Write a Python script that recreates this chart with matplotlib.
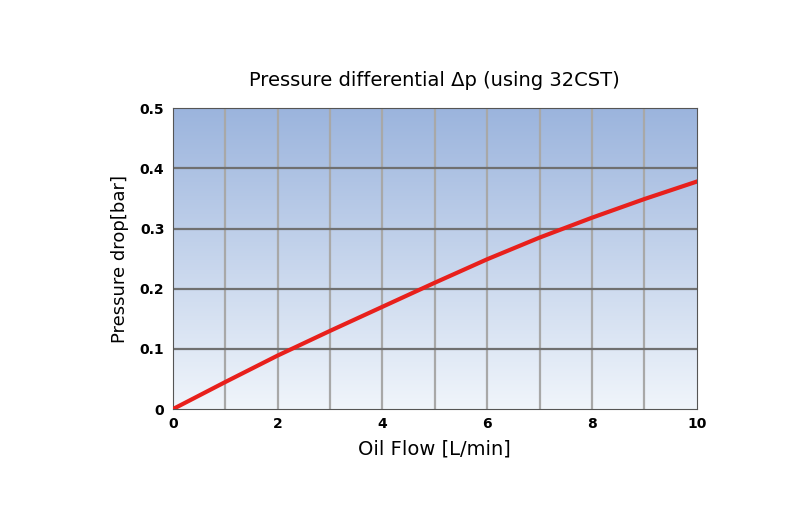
import numpy as np
import matplotlib.pyplot as plt
from matplotlib.colors import LinearSegmentedColormap

flow = [0, 1, 2, 3, 4, 5, 6, 7, 8, 9, 10]
pressure = [0, 0.045, 0.089, 0.130, 0.170, 0.210, 0.249, 0.285, 0.318, 0.349, 0.378]
x_ticks = [0, 2, 4, 6, 8, 10]
y_ticks = [0, 0.1, 0.2, 0.3, 0.4, 0.5]
y_labels = ["0", "0.1", "0.2", "0.3", "0.4", "0.5"]

fig = plt.figure(figsize=(8, 5.3), dpi=100)
ax = fig.add_axes([0.216, 0.228, 0.655, 0.568])

cmap = LinearSegmentedColormap.from_list("bg", ["#f0f5fb", "#9bb4dd"])
grad = np.linspace(0, 1, 256).reshape(-1, 1)
ax.imshow(grad, cmap=cmap, origin="lower", aspect="auto",
          extent=[0, 10, 0, 0.5], zorder=0)

for x in range(1, 10):
    ax.axvline(x, color="#a8a8a8", lw=1.6, zorder=1)
for y in y_ticks[1:-1]:
    ax.axhline(y, color="#707070", lw=1.6, zorder=1)

ax.plot(flow, pressure, color="#e8201c", lw=3, zorder=3)

ax.set_xlim(0, 10)
ax.set_ylim(0, 0.5)
ax.set_xticks(x_ticks)
ax.set_yticks(y_ticks)
ax.set_yticklabels(y_labels)
ax.tick_params(labelsize=10, length=0, pad=6)
for lab in ax.get_xticklabels() + ax.get_yticklabels():
    lab.set_fontweight("bold")
for spine in ax.spines.values():
    spine.set_color("#555555")

ax.set_xlabel("Oil Flow [L/min]", fontsize=14, labelpad=6)
ax.set_ylabel("Pressure drop[bar]", fontsize=13, labelpad=8)
ax.set_title("Pressure differential Δp (using 32CST)", fontsize=14, pad=16)

fig.savefig("out.png", dpi=100)
